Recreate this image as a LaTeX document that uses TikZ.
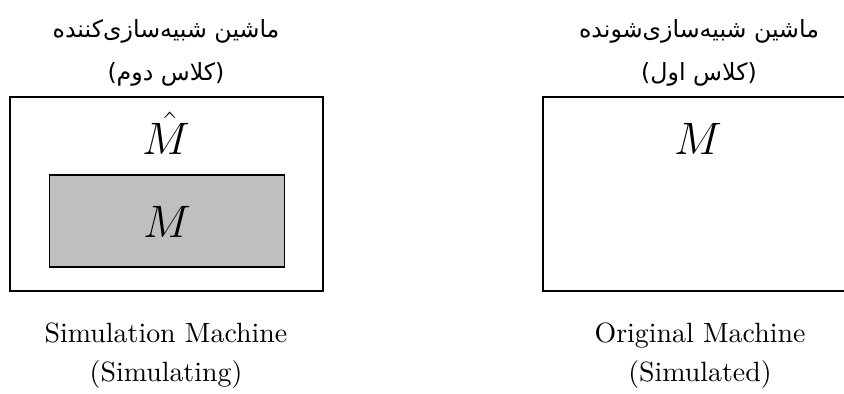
\documentclass[tikz,border=0pt]{standalone}
\usepackage{fontspec}
\newfontfamily\farsi[Script=Arabic]{DejaVu Sans}
\TeXXeTstate=1
\begin{document}
\begin{tikzpicture}[x=0.38pt,y=-0.38pt,
  machine/.style={draw, line width=0.55pt, inner sep=0pt,
    minimum width={313*0.38pt}, minimum height={194*0.38pt}},
  inner/.style={draw, line width=0.55pt, fill=black!25, inner sep=0pt,
    minimum width={235*0.38pt}, minimum height={92*0.38pt}},
  sym/.style={anchor=base, inner sep=0pt, font=\fontsize{18}{20}\selectfont},
  fa/.style={anchor=base, inner sep=0pt, font=\farsi\fontsize{9}{11}\selectfont},
  en/.style={anchor=base, inner sep=0pt, font=\fontsize{10.6}{12}\selectfont}]
  \useasboundingbox (0,0) rectangle (844,394);
  \clip (0,0) rectangle (844,394);

  % simulating machine (left)
  \node[fa] (simfa) at (166,38) {\beginR ماشین شبیه‌سازی‌کننده\endR};
  \node[fa] (simcls) at (166,81) {\beginR (کلاس دوم)\endR};
  \node[machine] (simbox) at (166.5,194) {};
  \node[sym] (mhat) at (166,155) {$\hat{M}$};
  \node[inner] (inbox) at (167,221) {};
  \node[sym] (minner) at (167,238) {$M$};
  \node[en] (simen) at (166,343) {Simulation Machine};
  \node[en] (simen2) at (166,382) {(Simulating)};

  % simulated machine (right)
  \node[fa] (orgfa) at (699,38) {\beginR ماشین شبیه‌سازی‌شونده\endR};
  \node[fa] (orgcls) at (699,81) {\beginR (کلاس اول)\endR};
  \node[machine] (orgbox) at (699.5,194) {};
  \node[sym] (morg) at (698,155) {$M$};
  \node[en] (orgen) at (700,343) {Original Machine};
  \node[en] (orgen2) at (700,382) {(Simulated)};
\end{tikzpicture}
\end{document}
